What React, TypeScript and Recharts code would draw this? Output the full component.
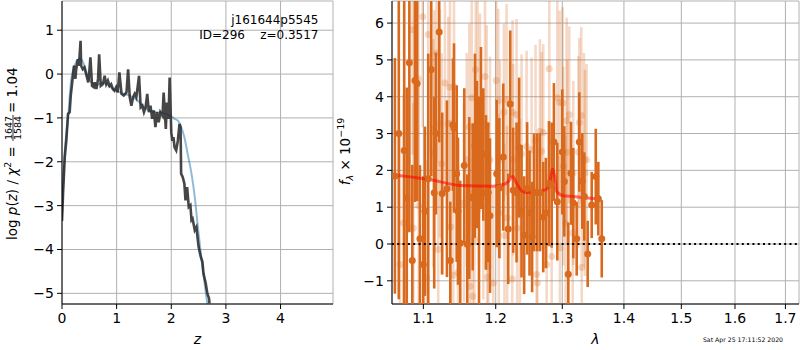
import React from "react";
import {
  ComposedChart,
  Line,
  Scatter,
  ErrorBar,
  XAxis,
  YAxis,
  CartesianGrid,
  ReferenceLine,
  Label,
} from "recharts";

const FONT = "DejaVu Sans";
const ORANGE = "#d9691c";

// left panel: log p(z)
const zGrid = [
  0, 0.02, 0.05, 0.08, 0.11, 0.14, 0.16, 0.2, 0.22, 0.245, 0.26, 0.29, 0.31, 0.34, 0.35, 0.38,
  0.41, 0.45, 0.48, 0.49, 0.52, 0.55, 0.58, 0.6, 0.63, 0.66, 0.68, 0.71, 0.75, 0.78, 0.81, 0.84,
  0.87, 0.9, 0.93, 0.96, 0.99, 1.02, 1.05, 1.09, 1.13, 1.18, 1.21, 1.24, 1.27, 1.3, 1.33, 1.36,
  1.41, 1.44, 1.47, 1.5, 1.53, 1.56, 1.59, 1.62, 1.65, 1.68, 1.71, 1.74, 1.77, 1.8, 1.84, 1.86,
  1.9, 1.92, 1.95, 1.97, 2.0, 2.02, 2.04, 2.06, 2.09, 2.12, 2.15, 2.17, 2.18, 2.21, 2.24, 2.26,
  2.29, 2.32, 2.35, 2.37, 2.39, 2.43, 2.46, 2.5, 2.54, 2.57, 2.59, 2.63, 2.66, 2.69, 2.7,
];
const logpGrid = [
  -3.35, -2.7, -1.9, -1.5, -0.91, -0.87, -0.49, -0.04, 0.19, -0.11, 0.11, 0.34, 0.19, 0.76, 0.19,
  0.11, 0.15, -0.04, -0.19, -0.11, 0.38, -0.27, -0.3, -0.19, -0.34, -0.11, 0.45, -0.27, -0.23,
  -0.04, -0.23, -0.15, -0.27, -0.23, -0.34, -0.38, -0.3, -0.42, 0.04, -0.45, -0.49, -0.42, 0.11,
  -0.53, -0.72, -0.53, -0.45, -0.53, -0.04, -0.76, -0.72, -0.87, -0.76, -0.45, -0.87, -0.72,
  -1.02, -0.83, -1.21, -0.87, -1.1, -0.87, -0.95, -0.42, -1.25, -0.65, -1.02, -0.08, -1.33,
  -1.52, -1.44, -1.67, -1.74, -1.52, -1.14, -1.21, -2.27, -2.35, -2.5, -2.88, -2.58, -3.03,
  -2.99, -3.33, -3.3, -3.56, -3.49, -3.94, -4.17, -4.28, -4.55, -4.77, -5.0, -5.11, -5.23,
];
const zSmooth = [
  0, 0.05, 0.11, 0.17, 0.23, 0.31, 0.35, 0.41, 0.48, 0.54, 0.63, 0.75, 0.87, 0.99, 1.12, 1.24,
  1.36, 1.48, 1.6, 1.73, 1.85, 1.97, 2.06, 2.12, 2.18, 2.24, 2.3, 2.37, 2.43, 2.48, 2.52, 2.57,
  2.61, 2.65, 2.67,
];
const logpSmooth = [
  -3.2, -1.78, -1.02, -0.11, 0.19, 0.34, 0.34, 0.19, -0.08, -0.19, -0.25, -0.2, -0.28, -0.38,
  -0.45, -0.49, -0.58, -0.72, -0.83, -0.87, -0.89, -0.94, -1.02, -1.06, -1.21, -1.44, -1.82,
  -2.27, -2.8, -3.41, -3.86, -4.4, -4.77, -5.15, -5.3,
];

// right panel: spectrum
const darkWave = [
  1.063, 1.068, 1.075, 1.0783, 1.0817, 1.0855, 1.089, 1.0919, 1.0956, 1.1, 1.1022, 1.1066,
  1.1106, 1.1146, 1.1169, 1.1213, 1.1254, 1.1318, 1.1364, 1.1401, 1.1415, 1.1452, 1.147, 1.1501,
  1.1557, 1.1599, 1.1627, 1.1675, 1.1707, 1.1735, 1.1764, 1.1792, 1.1825, 1.1863, 1.1896,
  1.1921, 1.2018, 1.2056, 1.2113, 1.2186, 1.2215, 1.2259, 1.2309, 1.2347, 1.2383, 1.2422,
  1.2467, 1.2503, 1.2542, 1.2572, 1.2618, 1.266, 1.2711, 1.2752, 1.2799, 1.2841, 1.2876,
  1.2928, 1.3006, 1.3038, 1.3101, 1.3143, 1.318, 1.3234, 1.3276, 1.3324, 1.3356, 1.3411,
  1.3476, 1.3542, 1.3584, 1.364,
];
const darkFlux = [
  1.85, 3.0, 2.54, 1.25, 4.92, -0.45, 4.44, 4.36, 0.14, -0.56, 0.89, 1.77, 4.74, 1.39, 3.0, 5.76,
  1.37, 1.5, -0.45, 3.24, 3.15, 1.91, 0.89, 0.02, 2.13, -0.01, 1.25, 1.28, 2.67, 2.43, 1.1, 3.15,
  2.43, 1.4, 1.4, 0.77, 1.91, 1.52, 2.36, 0.41, 3.8, 1.46, 1.4, 2.62, 0.89, 0.24, 1.51, 0.84,
  0.19, 1.4, 1.4, 1.4, 0.73, 0.84, 1.64, 1.6, 2.77, 1.15, 2.5, 1.7, -0.82, 1.92, 1.11, 0.14,
  2.77, 1.71, 1.29, -0.27, 1.06, 1.83, 1.23, 0.14,
];
const darkErr = [
  3.2, 4.5, 4.2, 3.0, 4.6, 2.6, 3.3, 3.2, 2.0, 2.4, 2.3, 3.4, 2.9, 2.6, 2.2, 3.0, 2.2, 2.4, 1.6,
  1.8, 2.3, 2.4, 2.0, 1.7, 2.1, 1.9, 2.2, 2.0, 2.5, 2.0, 2.9, 2.2, 1.8, 2.1, 1.9, 2.1, 2.0, 1.9,
  2.0, 1.5, 2.0, 1.7, 1.9, 1.9, 1.8, 1.6, 1.8, 1.7, 1.5, 1.6, 1.6, 1.6, 1.5, 1.5, 1.7, 1.7, 1.6,
  1.6, 1.7, 1.5, 1.4, 1.4, 1.5, 1.0, 1.35, 1.3, 1.2, 0.9, 0.9, 1.3, 1.0, 1.05,
];

const lightWave = [
  1.0992, 1.1066, 1.086, 1.0934, 1.1178, 1.1291, 1.136, 1.1415, 1.1717, 1.1849, 1.2011, 1.1661,
  1.1745, 1.2041, 1.2162, 1.1778, 1.2123, 1.225, 1.2309, 1.1223, 1.1337, 1.1627, 1.1873, 1.1146,
  1.266, 1.2711, 1.2928, 1.2965, 1.3012, 1.3116, 1.3075, 1.3276, 1.3308, 1.2804, 1.2594, 1.2686,
  1.3085, 1.3262, 1.335, 1.3393, 1.3366, 1.318, 1.3022, 1.2459, 1.2383, 1.2534, 1.2259, 1.2065,
  1.1921, 1.1591, 1.1246, 1.1133, 1.094, 1.0869, 1.074, 1.0696, 1.1045, 1.12, 1.1369, 1.1405,
  1.147, 1.1553, 1.17, 1.1637, 1.1675, 1.1896, 1.188, 1.1968, 1.213, 1.2245, 1.2318, 1.261,
  1.2622, 1.2764, 1.2841, 1.2969, 1.3059, 1.3314, 1.3171, 1.2359, 1.217, 1.2048, 1.1825,
];
const lightFlux = [
  6.17, 5.69, 5.82, 4.49, 5.19, 4.37, 4.26, 4.27, 4.74, 4.55, 4.44, 3.97, 3.9, 3.89, 3.92, 3.56,
  3.58, 3.58, 3.51, 3.27, 3.27, 3.18, 3.24, 3.15, 3.06, 3.03, 3.97, 3.84, 3.83, 3.51, 3.35, 3.3,
  3.49, 4.76, 2.81, 2.52, 2.49, 2.5, 2.29, 2.29, 1.93, 1.93, 2.11, 2.65, 2.45, 2.56, 2.29, 2.29,
  2.29, 2.29, 2.18, 2.47, 1.04, 0.43, 0.57, -0.56, -0.92, -0.15, 0.46, -0.85, -0.77, 1.11, 0.12,
  -1.15, -1.42, -0.61, -0.9, -1.06, 0.23, -0.95, 0.43, -0.83, -1.06, -0.56, -0.34, -0.11, 0.55,
  -0.64, 0.3, 0.8, 0.71, 0.84, 1.29,
];
const lightErr = [
  3.0, 3.2, 3.4, 3.3, 3.0, 2.9, 2.8, 3.1, 2.8, 3.0, 2.6, 2.7, 2.9, 2.5, 2.6, 2.7, 2.4, 2.5, 2.6,
  3.1, 2.9, 2.8, 2.7, 3.2, 2.5, 2.4, 2.7, 2.5, 2.6, 2.4, 2.8, 2.3, 2.4, 2.6, 2.6, 2.7, 2.5, 2.6,
  2.9, 2.6, 2.8, 2.5, 2.7, 2.6, 2.7, 2.5, 2.6, 2.7, 2.8, 2.9, 3.0, 3.1, 3.3, 3.4, 3.5, 3.6, 3.2,
  3.0, 2.9, 2.8, 2.9, 2.7, 2.8, 2.6, 2.7, 2.6, 2.5, 2.6, 2.5, 2.4, 2.5, 2.4, 2.3, 2.5, 2.4, 2.5,
  2.4, 2.2, 2.3, 2.6, 2.5, 2.7, 2.8,
];

const modelWave = [
  1.0673, 1.1089, 1.1497, 1.1968, 1.2138, 1.219, 1.225, 1.23, 1.238, 1.245, 1.26, 1.27, 1.2764,
  1.2814, 1.2855, 1.29, 1.2918, 1.3022, 1.318, 1.3394, 1.356,
];
const modelFlux = [
  1.86, 1.75, 1.59, 1.57, 1.63, 1.7, 1.84, 1.68, 1.45, 1.4, 1.4, 1.45, 1.49, 1.7, 2.04, 1.7, 1.43,
  1.31, 1.29, 1.25, 1.23,
];

const zTicks = [0, 1, 2, 3, 4];
const logpTicks = [-5, -4, -3, -2, -1, 0, 1];
const waveTicks = [1.1, 1.2, 1.3, 1.4, 1.5, 1.6, 1.7];
const fluxTicks = [-1, 0, 1, 2, 3, 4, 5, 6];

const zDomain = [0, 4.96];
const logpDomain = [-5.243, 1.666];
const waveDomain = [1.0593, 1.728];
const fluxDomain = [-1.63, 6.6];

const pzData = zGrid.map((z, i) => ({ z, p: logpGrid[i] }));
const pzSmoothData = zSmooth.map((z, i) => ({ z, p: logpSmooth[i] }));
const darkData = darkWave.map((x, i) => ({ x, v: darkFlux[i], err: darkErr[i] }));
const lightData = lightWave.map((x, i) => ({ x, v: lightFlux[i], err: lightErr[i] }));
const modelData = modelWave.map((x, i) => ({ x, v: modelFlux[i] }));

const fmtMinus = (v: number) => (v < 0 ? `\u2212${Math.abs(v)}` : `${v}`);
const tickStyle = { fill: "#000", fontSize: 14, fontFamily: FONT };
const labelStyle = { fill: "#000", fontSize: 14, fontFamily: FONT, fontStyle: "italic" };

const darkDot = (p: any) => <circle cx={p.cx} cy={p.cy} r={3.5} fill={ORANGE} />;
const lightDot = (p: any) => (
  <circle cx={p.cx} cy={p.cy} r={3.5} fill={ORANGE} fillOpacity={0.25} />
);

function RedshiftPanel() {
  return (
    <ComposedChart width={340} height={350} margin={{ top: 1, right: 7, bottom: 0, left: 0 }}>
      <CartesianGrid stroke="#b0b0b0" />
      <XAxis
        dataKey="z"
        type="number"
        domain={zDomain}
        ticks={zTicks}
        allowDataOverflow
        height={46}
        tickSize={5}
        tickMargin={4}
        stroke="#000"
        tick={tickStyle}
        tickFormatter={fmtMinus}
      >
        <Label value="z" position="insideBottom" offset={6} style={labelStyle} />
      </XAxis>
      <YAxis
        type="number"
        domain={logpDomain}
        ticks={logpTicks}
        allowDataOverflow
        width={62}
        tickSize={5}
        tickMargin={3}
        stroke="#000"
        tick={tickStyle}
        tickFormatter={fmtMinus}
      />
      <XAxis xAxisId="top" orientation="top" type="number" domain={[0, 1]} height={0} tick={false} tickLine={false} stroke="#000" />
      <YAxis yAxisId="right" orientation="right" type="number" domain={[0, 1]} width={0} tick={false} tickLine={false} stroke="#000" />
      <Line
        data={pzSmoothData}
        dataKey="p"
        type="monotone"
        stroke="#1f77b4"
        strokeOpacity={0.5}
        strokeWidth={2}
        dot={false}
        isAnimationActive={false}
      />
      <Line
        data={pzData}
        dataKey="p"
        stroke="#262626"
        strokeOpacity={0.85}
        strokeWidth={2.6}
        dot={false}
        isAnimationActive={false}
      />
    </ComposedChart>
  );
}

// axes, grid and frame of the spectrum panel
function SpectrumFrame() {
  return (
    <ComposedChart
      width={467}
      height={350}
      data={modelData}
      margin={{ top: 1, right: 1, bottom: 0, left: 0 }}
    >
      <CartesianGrid stroke="#b0b0b0" />
      <XAxis
        dataKey="x"
        type="number"
        scale="log"
        domain={waveDomain}
        ticks={waveTicks}
        allowDataOverflow
        height={46}
        tickSize={5}
        tickMargin={4}
        stroke="#000"
        tick={tickStyle}
        tickFormatter={(v: number) => v.toFixed(1)}
      >
        <Label value="λ" position="insideBottom" offset={6} style={labelStyle} />
      </XAxis>
      <YAxis
        type="number"
        domain={fluxDomain}
        ticks={fluxTicks}
        allowDataOverflow
        width={59}
        tickSize={5}
        tickMargin={3}
        stroke="#000"
        tick={tickStyle}
        tickFormatter={fmtMinus}
      />
      <XAxis xAxisId="top" orientation="top" type="number" domain={[0, 1]} height={0} tick={false} tickLine={false} stroke="#000" />
      <YAxis yAxisId="right" orientation="right" type="number" domain={[0, 1]} width={0} tick={false} tickLine={false} stroke="#000" />
    </ComposedChart>
  );
}

// data of the spectrum panel, sized to the plot area so the svg clips the bars
function SpectrumData() {
  return (
    <ComposedChart width={406} height={303} margin={{ top: 0, right: 0, bottom: 0, left: 0 }}>
      <XAxis dataKey="x" type="number" scale="log" domain={waveDomain} allowDataOverflow hide />
      <YAxis type="number" domain={fluxDomain} allowDataOverflow hide />
      <Scatter data={lightData} dataKey="v" shape={lightDot} isAnimationActive={false}>
        <ErrorBar dataKey="err" direction="y" width={0} stroke={ORANGE} strokeOpacity={0.25} strokeWidth={2.6} />
      </Scatter>
      <Scatter data={darkData} dataKey="v" shape={darkDot} isAnimationActive={false}>
        <ErrorBar dataKey="err" direction="y" width={0} stroke={ORANGE} strokeWidth={2.6} />
      </Scatter>
      <Line
        data={modelData}
        dataKey="v"
        type="monotone"
        stroke="#ff0000"
        strokeOpacity={0.55}
        strokeWidth={3}
        dot={false}
        isAnimationActive={false}
      />
      <ReferenceLine y={0} stroke="#000" strokeWidth={2} strokeDasharray="2 3.3" />
    </ComposedChart>
  );
}

export default function App() {
  return (
    <div style={{ position: "absolute", left: 0, top: 0, width: 800, height: 350, background: "#fff" }}>
      <div style={{ position: "absolute", left: 0, top: 0 }}>
        <RedshiftPanel />
      </div>
      <div style={{ position: "absolute", left: 333, top: 0 }}>
        <SpectrumFrame />
      </div>
      <div style={{ position: "absolute", left: 392, top: 1, overflow: "hidden" }}>
        <SpectrumData />
      </div>
      <svg
        width={800}
        height={350}
        style={{ position: "absolute", left: 0, top: 0, pointerEvents: "none" }}
        fontFamily={FONT}
        fill="#000"
      >
        <text x={318.5} y={24} textAnchor="end" fontSize={12}>j161644p5545</text>
        <text x={318.5} y={39} textAnchor="end" fontSize={12} style={{ whiteSpace: "pre" }}>
          {"ID=296    z=0.3517"}
        </text>
        <g transform="translate(17,240) rotate(-90)" fontSize={13.5}>
          <text x={0} y={0} style={{ whiteSpace: "pre" }}>
            {"log "}
            <tspan fontStyle="italic">p</tspan>
            {"("}
            <tspan fontStyle="italic">z</tspan>
            {") / "}
            <tspan fontStyle="italic">χ</tspan>
            <tspan fontSize={9.5} dy={-6}>2</tspan>
            <tspan dy={6}>{" = "}</tspan>
          </text>
          <text x={112} y={-5.5} textAnchor="middle" fontSize={9.5}>1647</text>
          <line x1={99} x2={125} y1={-4} y2={-4} stroke="#000" strokeWidth={0.8} />
          <text x={112} y={3.5} textAnchor="middle" fontSize={9.5}>1584</text>
          <text x={127} y={0} style={{ whiteSpace: "pre" }}>{"= 1.04"}</text>
        </g>
        <g transform="translate(349.5,151.5) rotate(-90)" fontSize={13.5}>
          <text x={0} y={0} textAnchor="middle">
            <tspan fontStyle="italic">f</tspan>
            <tspan fontSize={9.5} fontStyle="italic" dy={3}>λ</tspan>
            <tspan dy={-3}>{" × 10"}</tspan>
            <tspan fontSize={9.5} dy={-6}>−19</tspan>
          </text>
        </g>
        <text x={743} y={342} textAnchor="middle" fontSize={6.2}>Sat Apr 25 17:11:52 2020</text>
      </svg>
    </div>
  );
}
